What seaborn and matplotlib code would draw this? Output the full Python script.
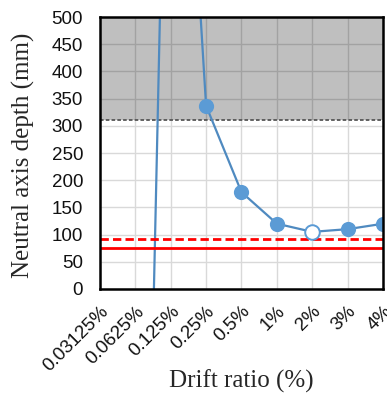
import numpy as np
import pandas as pd
import seaborn as sns
import matplotlib.pyplot as plt

# Drift levels (categorical axis) and neutral axis depth (mm)
drift_labels = ['0.03125%', '0.0625%', '0.125%', '0.25%', '0.5%', '1%', '2%', '3%', '4%']
depth = [np.nan, -1560, 1400, 337, 178, 120, 105, 110, 120]
hollow_label = '2%'

shade_from = 310      # shaded region start (mm)
red_solid = 76
red_dashed = 92
y_max = 500

blue = '#5B9BD5'

sns.set_style('white')
plt.rcParams['font.family'] = ['Liberation Sans', 'DejaVu Sans']

df = pd.DataFrame({'label': drift_labels, 'depth': depth})
df['pos'] = np.arange(len(df))

fig = plt.figure(figsize=(3.87, 3.98), dpi=100)
ax = fig.add_axes([0.258, 0.274, 0.732, 0.683])

# shaded zone (over the grid, under the data)
ax.axhspan(shade_from, y_max, color='black', alpha=0.25, linewidth=0, zorder=1.2)
ax.axhline(shade_from, color='#555555', linewidth=1.3, linestyle=(0, (2, 1.2)), zorder=1.3)

# connecting line
line_df = df.dropna()
sns.lineplot(data=line_df, x='pos', y='depth', ax=ax, color='#4F8AC0', linewidth=1.6,
             errorbar=None, zorder=2, legend=False)

# markers: filled except the 2% point (off-chart points are not visible)
on_chart = df[(df['depth'] >= 0) & (df['depth'] <= y_max)]
filled = on_chart[on_chart['label'] != hollow_label]
hollow = on_chart[on_chart['label'] == hollow_label]
sns.scatterplot(data=filled, x='pos', y='depth', ax=ax, color=blue, s=120,
                edgecolor=blue, linewidth=0, zorder=2.5, legend=False)
sns.scatterplot(data=hollow, x='pos', y='depth', ax=ax, facecolor='white', s=110,
                edgecolor=blue, linewidth=1.4, zorder=2.5, legend=False)

# reference lines
ax.axhline(red_solid, color='#FF0000', linewidth=2, zorder=2)
ax.axhline(red_dashed, color='#FF0000', linewidth=2, linestyle=(0, (3, 1.5)), zorder=2)

ax.set_xlim(0, len(drift_labels) - 1)
ax.set_ylim(0, y_max)
ax.set_yticks(np.arange(0, y_max + 1, 50))
ax.set_xticks(df['pos'])
ax.set_xticklabels(drift_labels, rotation=45, ha='right', rotation_mode='anchor')
ax.tick_params(axis='both', labelsize=13.5, length=0, colors='#111111')
ax.tick_params(axis='y', pad=12)
ax.tick_params(axis='x', pad=10)
ax.grid(True, color='#D9D9D9', linewidth=1)
ax.set_axisbelow(True)
for sp in ax.spines.values():
    sp.set_color('black')
    sp.set_linewidth(1.8)
    sp.set_zorder(4)

ax.set_xlabel('Drift ratio (%)', fontsize=18, family=['Liberation Serif'])
ax.set_ylabel('Neutral axis depth (mm)', fontsize=18, family=['Liberation Serif'])
ax.xaxis.set_label_coords(0.5, -0.295)
ax.yaxis.set_label_coords(-0.23, 0.49)

fig.savefig('out.png', dpi=100)
